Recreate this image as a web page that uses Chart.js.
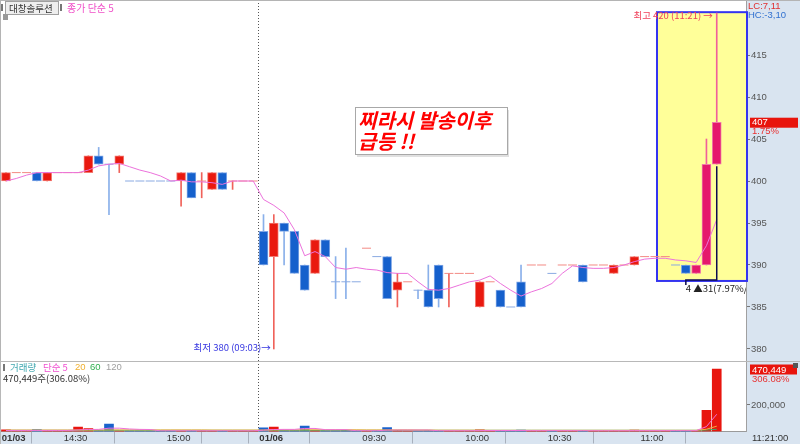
<!DOCTYPE html>
<html>
<head>
<meta charset="utf-8">
<script src="https://cdn.jsdelivr.net/npm/chart.js@4.4.1/dist/chart.umd.min.js"></script>
<style>
    html, body { margin: 0; padding: 0; background: #fff; }
    #wrap { position: relative; width: 800px; height: 444px; overflow: hidden; }
    #priceCanvas { position: absolute; left: 0; top: 0; }
    #volCanvas { position: absolute; left: 0; top: 361px; }
</style>
</head>
<body>
<div id="wrap">
    <canvas id="priceCanvas" width="800" height="361"></canvas>
    <canvas id="volCanvas" width="800" height="83"></canvas>
</div>
<script>
// one slot = one 3-minute bar, 01/03 afternoon -> 01/06 11:21
const openP  = [400,401,401,401,400,401,401,401,401,403, 402,402,400,400,400,400,400,400,401,400,
                399,401,400,400,400,394,391,395,394,390, 389,393,388,388,388,392,391,391,387,388,
                387,387,390,389,389,389,385,388,387,385, 388,390,390,389,390,390,390,390,390,389,
                390,390,391,391,391,390,390,389,390,402];
const highP  = [401,401,401,401,401,401,401,401,403,404, 402,403,400,400,400,400,400,401,401,401,
                401,401,400,400,400,396,396,395,394,390, 393,393,391,392,388,392,391,391,389,388,
                387,390,390,389,389,389,388,388,387,385, 390,390,390,389,390,390,390,390,390,390,
                390,391,391,391,391,390,390,390,405,420];
const lowP   = [400,401,401,400,400,401,401,401,401,402, 396,401,400,400,400,400,400,397,398,398,
                399,399,399,400,400,390,380,390,389,387, 389,391,386,386,388,392,391,386,385,388,
                386,385,385,385,389,389,385,388,385,385, 385,390,390,389,390,390,388,390,390,389,
                390,390,391,391,391,390,389,389,390,402];
const closeP = [401,401,401,400,401,401,401,401,403,402, 402,403,400,400,400,400,400,401,398,400,
                401,399,400,400,400,390,395,394,389,387, 393,391,388,388,388,392,391,386,388,388,
                387,385,386,389,389,389,388,388,385,385, 385,390,390,389,390,390,388,390,390,390,
                390,391,391,391,391,390,389,390,402,407];
// 종가 단순 5
const maClose = [400,400.3,400.7,401,401,401,401,401,401.3,401.8, 402,402.1,401.7,401.3,401,400.6,400,400.1,399.9,399.9,
                 399.8,399.6,400,400,400,397.8,397.1,396.2,394.2,391.1, 391.6,391,389.7,389.5,389.7,389.5,389.4,389.1,389,389,
                 388,387.1,387,387.2,387.6,388,388.2,388.7,387.8,387, 386.3,386.8,387.2,387.8,389,389.9,389.7,389.6,389.6,389.7,
                 390,390.4,390.7,390.8,390.8,390.6,390.5,390.3,392.3,395.4];

const vol = [12000,5000,5000,14000,6000,6000,6000,33000,22000,8000, 56000,5000,5000,5000,5000,5000,5000,5000,6000,6000,
             6000,5000,5000,5000,5000,28000,33000,8000,8000,40000, 8000,6000,6000,8000,5000,5000,6000,30000,8000,5000,
             5000,8000,6000,5000,5000,5000,12000,5000,6000,5000, 10000,5000,5000,5000,5000,5000,8000,5000,5000,6000,
             5000,10000,5000,5000,5000,5000,6000,8000,160000,470449];
const volMa5 = [8000,8000,8000,8000,8000,8000,8000,12000,15000,16000, 25000,25000,19000,16000,15000,5000,5500,5500,5500,5500,
                5500,5500,5500,5500,5500,10000,15000,16000,16000,23000, 23000,14000,14000,14000,6000,6000,6000,10000,11000,11000,
                11000,11000,6000,6000,6000,6000,7000,7500,7500,7500, 7500,6500,6500,6500,6500,6500,6000,6000,6000,6000,
                6000,6500,6500,6500,6500,6500,6000,6500,37000,130000];
const volMa20 = [11000,11000,11000,11000,11000,11000,11000,11000,11000,11000, 12000,12000,12000,12000,12000,12000,12000,12000,12000,12000,
                 11000,11000,11000,11000,11000,11000,12000,12000,12000,13000, 13000,13000,13000,13000,13000,12000,12000,12000,12000,12000,
                 11000,11000,10000,10000,10000,10000,10000,9000,9000,9000, 9000,9000,9000,9000,9000,9000,9000,9000,9000,9000,
                 9000,9000,9000,9000,9000,9000,9000,9000,17000,40000];
const volMa60 = [9000,9000,9000,9000,9000,9000,9000,9000,9000,9000, 9000,9000,9000,9000,9000,9000,9000,9000,9000,9000,
                 9000,9000,9000,9000,9000,9000,9000,9000,9000,9000, 9000,9000,9000,9000,9000,9000,9000,9000,9000,9000,
                 9000,9000,9000,9000,9000,9000,9000,9000,9000,9000, 9000,9000,9000,9000,9000,9000,9000,9000,9000,9000,
                 9000,9000,9000,9000,9000,9000,9000,9000,11000,17000];

const priceTicks = [380, 385, 390, 395, 400, 405, 410, 415];
const volTicks = [200000];
const timeTicks = [-0.5, 5.5, 15.5, 22.5, 24.5, 34.5, 44.5, 52.5, 61.5];
const timeLabels = ['01/03', '14:30', '15:00', '', '01/06', '09:30', '10:00', '10:30', '11:00'];

// visible slot range, price / volume ranges of the two panes
const X_MIN = -0.58, X_MAX = 71.84;
const P_MIN = 378.57, P_MAX = 421.55;
const V_MAX = 532000;
const DAY_BREAK = 24.5;
const HOT_START = 67;

const NUM = '"Liberation Sans", Arial, sans-serif';
const KR = '"Noto Sans CJK KR", "Noto Sans", sans-serif';
const AXIS_BG = '#d9e4f0';

const RED = '#e9190f', RED_EDGE = '#f27a72', RED_WICK = '#f0625a', RED_DASH = '#f38a84';
const BLUE = '#1560cc', BLUE_EDGE = '#7fa6e6', BLUE_WICK = '#8ab0ea', BLUE_DASH = '#8aaae2';
const HOT = '#e5186c', HOT_EDGE = '#f07aa8', HOT_WICK = '#f0609a';

const idx = openP.map((_, i) => i);

// up / down tone: body direction, dojis follow the previous close
const tone = [];
idx.forEach(i => {
    if (closeP[i] > openP[i]) tone.push('up');
    else if (closeP[i] < openP[i]) tone.push('down');
    else if (i > 0 && closeP[i] > closeP[i - 1]) tone.push('up');
    else if (i > 0 && closeP[i] < closeP[i - 1]) tone.push('down');
    else tone.push(i > 0 ? tone[i - 1] : 'up');
});

const bodyIdx = idx.filter(i => openP[i] !== closeP[i]);
const dojiIdx = idx.filter(i => openP[i] === closeP[i]);
const wickIdx = idx.filter(i => highP[i] > lowP[i]);

function fillOf(i) {
    if (tone[i] === 'up') return i >= HOT_START ? HOT : RED;
    return BLUE;
}
function edgeOf(i) {
    if (tone[i] === 'up') return i >= HOT_START ? HOT_EDGE : RED_EDGE;
    return BLUE_EDGE;
}
function wickOf(i) {
    if (tone[i] === 'up') return i >= HOT_START ? HOT_WICK : RED_WICK;
    return BLUE_WICK;
}

function txt(ctx, s, x, y, color, font, align) {
    ctx.fillStyle = color;
    ctx.font = font;
    ctx.textAlign = align || 'left';
    ctx.textBaseline = 'middle';
    ctx.fillText(s, x, y);
}

// drop the label padding chart.js keeps around the axes
function noPad(s) {
    s.paddingTop = 0;
    s.paddingBottom = 0;
    s.paddingLeft = 0;
    s.paddingRight = 0;
}

const priceDeco = {
    id: 'priceDeco',
    beforeDraw(chart) {
        const { ctx, chartArea: a, width, height } = chart;
        ctx.save();
        ctx.fillStyle = '#fff';
        ctx.fillRect(0, 0, width, height);
        ctx.fillStyle = AXIS_BG;
        ctx.fillRect(a.right, 0, width - a.right, height);
        ctx.restore();
    },
    beforeDatasetsDraw(chart) {
        const { ctx, chartArea: a, scales: { x, y } } = chart;
        ctx.save();
        // highlight box
        const bx = x.getPixelForValue(63.2);
        const by1 = y.getPixelForValue(420.1);
        const by2 = y.getPixelForValue(388.1);
        ctx.fillStyle = '#ffff99';
        ctx.fillRect(bx, by1, a.right - bx, by2 - by1);
        ctx.strokeStyle = '#3434f0';
        ctx.lineWidth = 2;
        ctx.strokeRect(bx, by1, a.right - bx + 1, by2 - by1);
        // day separator
        const dx = Math.round(x.getPixelForValue(DAY_BREAK)) + 0.5;
        ctx.setLineDash([1, 2]);
        ctx.strokeStyle = '#555';
        ctx.lineWidth = 1;
        ctx.beginPath();
        ctx.moveTo(dx, a.top);
        ctx.lineTo(dx, a.bottom);
        ctx.stroke();
        ctx.restore();
    },
    afterDatasetsDraw(chart) {
        const { ctx, chartArea: a, scales: { x, y } } = chart;
        ctx.save();
        ctx.beginPath();
        ctx.rect(a.left, a.top, a.right - a.left, a.bottom - a.top);
        ctx.clip();

        // range bracket 66 -> 69
        const x69 = x.getPixelForValue(69), x66 = x.getPixelForValue(66);
        const yb = y.getPixelForValue(388.2);
        ctx.strokeStyle = '#0c0c50';
        ctx.lineWidth = 1.5;
        ctx.beginPath();
        ctx.moveTo(x69, y.getPixelForValue(402) + 2);
        ctx.lineTo(x69, yb);
        ctx.lineTo(x66, yb);
        ctx.lineTo(x66, yb + 5);
        ctx.stroke();
        txt(ctx, '4 ▲31(7.97%/-', x66, yb + 8, '#222', '9.5px ' + KR);

        // high / low notes
        txt(ctx, '최고 420 (11:21) →', x69 - 4, y.getPixelForValue(420) + 2, '#f0405a', '9.5px ' + KR, 'right');
        txt(ctx, '최저 380 (09:03)→', x.getPixelForValue(26) - 3, y.getPixelForValue(380) - 2, '#3535e0', '9.5px ' + KR, 'right');

        // memo box
        ctx.fillStyle = 'rgba(0,0,0,0.12)';
        ctx.fillRect(357, 110, 152, 47);
        ctx.fillStyle = '#fff';
        ctx.fillRect(355.5, 107.5, 152, 47);
        ctx.strokeStyle = '#a8a8a8';
        ctx.lineWidth = 1;
        ctx.strokeRect(355.5, 107.5, 152, 47);
        ctx.fillStyle = '#ff0000';
        ctx.font = 'italic bold 20px ' + KR;
        ctx.textAlign = 'left';
        ctx.textBaseline = 'alphabetic';
        ctx.fillText('찌라시 발송이후', 358, 128);
        ctx.fillText('급등 !!', 358, 149);
        ctx.restore();
    },
    afterDraw(chart) {
        const { ctx, chartArea: a, width, scales: { y } } = chart;
        ctx.save();
        // legend
        ctx.fillStyle = '#777';
        ctx.fillRect(1, 4, 2, 7);
        ctx.fillStyle = '#eeeeee';
        ctx.fillRect(5.5, 1.5, 53, 13);
        ctx.strokeStyle = '#a0a0a0';
        ctx.lineWidth = 1;
        ctx.strokeRect(5.5, 1.5, 53, 13);
        txt(ctx, '대창솔루션', 9, 8.5, '#333', '9.5px ' + KR);
        ctx.fillStyle = '#777';
        ctx.fillRect(60, 4, 2, 7);
        txt(ctx, '종가 단순 5', 67, 8.5, '#f050c8', '10px ' + KR);
        ctx.fillStyle = '#999';
        ctx.fillRect(3, 14, 5, 6);

        txt(ctx, 'LC:7,11', a.right + 2, 6, '#e03030', '9.5px ' + NUM);
        txt(ctx, 'HC:-3,10', a.right + 2, 15, '#3070d0', '9.5px ' + NUM);
        const yc = y.getPixelForValue(closeP[closeP.length - 1]);
        ctx.fillStyle = '#e8140c';
        ctx.fillRect(a.right + 4, yc - 4.5, 48, 10);
        txt(ctx, String(closeP[closeP.length - 1]), a.right + 6, yc + 0.5, '#fff', '9.5px ' + NUM);
        txt(ctx, '1.75%', a.right + 6, yc + 9.5, '#e83030', '9.5px ' + NUM);
        // frame
        ctx.strokeStyle = '#b4b4b4';
        ctx.lineWidth = 1;
        ctx.beginPath();
        ctx.moveTo(0, 0.5);
        ctx.lineTo(width, 0.5);
        ctx.moveTo(0.5, 0);
        ctx.lineTo(0.5, chart.height);
        ctx.stroke();
        ctx.restore();
    }
};

const volDeco = {
    id: 'volDeco',
    beforeDraw(chart) {
        const { ctx, chartArea: a, width, height } = chart;
        ctx.save();
        ctx.fillStyle = '#fff';
        ctx.fillRect(0, 0, width, height);
        ctx.fillStyle = AXIS_BG;
        ctx.fillRect(a.right, 0, width - a.right, height);
        ctx.fillRect(0, a.bottom, width, height - a.bottom);
        ctx.restore();
    },
    beforeDatasetsDraw(chart) {
        const { ctx, chartArea: a, scales: { x } } = chart;
        ctx.save();
        const dx = Math.round(x.getPixelForValue(DAY_BREAK)) + 0.5;
        ctx.setLineDash([1, 2]);
        ctx.strokeStyle = '#555';
        ctx.lineWidth = 1;
        ctx.beginPath();
        ctx.moveTo(dx, a.top);
        ctx.lineTo(dx, a.bottom);
        ctx.stroke();
        ctx.restore();
    },
    afterDraw(chart) {
        const { ctx, chartArea: a, width, height } = chart;
        ctx.save();
        ctx.strokeStyle = '#b8b8b8';
        ctx.lineWidth = 1;
        ctx.beginPath();
        ctx.moveTo(0, 0.5);
        ctx.lineTo(width, 0.5);
        ctx.moveTo(0.5, 0);
        ctx.lineTo(0.5, height);
        ctx.stroke();

        // legend
        ctx.fillStyle = '#777';
        ctx.fillRect(3, 3, 2, 7);
        txt(ctx, '거래량', 10, 6.5, '#40a8b0', '9.5px ' + KR);
        txt(ctx, '단순 5', 43, 6.5, '#f050d0', '9.5px ' + KR);
        txt(ctx, '20', 75, 6.5, '#f0b030', '9.5px ' + NUM);
        txt(ctx, '60', 90, 6.5, '#30b050', '9.5px ' + NUM);
        txt(ctx, '120', 106, 6.5, '#a0a0a0', '9.5px ' + NUM);
        txt(ctx, '470,449주(306.08%)', 3, 17.5, '#333', '9.5px ' + KR);

        // right axis notes
        ctx.fillStyle = '#e8140c';
        ctx.fillRect(a.right + 4, 3.5, 47, 10);
        txt(ctx, '470,449', a.right + 6, 9, '#fff', '9.5px ' + NUM);
        txt(ctx, '306.08%', a.right + 6, 18, '#e83030', '9.5px ' + NUM);
        ctx.fillStyle = '#555';
        ctx.fillRect(width - 7, 2, 5, 5);
        txt(ctx, '11:21:00', a.right + 6, a.bottom + 6.5, '#333', '9.5px ' + NUM);
        ctx.restore();
    }
};

new Chart(document.getElementById('priceCanvas'), {
    type: 'bar',
    data: {
        datasets: [
            {
                type: 'line',
                label: '종가 단순 5',
                data: idx.map(i => ({ x: i, y: maClose[i] })),
                borderColor: '#ec72dc',
                borderWidth: 1,
                pointRadius: 0,
                tension: 0,
                order: 0
            },
            {
                type: 'line',
                label: 'doji',
                data: dojiIdx.map(i => ({ x: i, y: closeP[i] })),
                showLine: false,
                pointStyle: 'line',
                pointRadius: 4.5,
                pointBorderWidth: 1,
                pointBorderColor: dojiIdx.map(i => tone[i] === 'up' ? RED_DASH : BLUE_DASH),
                order: 1
            },
            {
                type: 'bar',
                label: 'body',
                data: bodyIdx.map(i => ({ x: i, y: [openP[i], closeP[i]] })),
                backgroundColor: bodyIdx.map(fillOf),
                borderColor: bodyIdx.map(edgeOf),
                borderWidth: 1,
                borderSkipped: false,
                barThickness: 9,
                grouped: false,
                order: 2
            },
            {
                type: 'bar',
                label: 'wick',
                data: wickIdx.map(i => ({ x: i, y: [lowP[i], highP[i]] })),
                backgroundColor: wickIdx.map(wickOf),
                borderWidth: 0,
                barThickness: 1,
                grouped: false,
                order: 3
            }
        ]
    },
    options: {
        responsive: false,
        maintainAspectRatio: false,
        animation: false,
        events: [],
        layout: { padding: 0, autoPadding: false },
        plugins: { legend: { display: false }, tooltip: { enabled: false } },
        scales: {
            x: {
                type: 'linear',
                min: X_MIN,
                max: X_MAX,
                offset: false,
                display: false
            },
            y: {
                position: 'right',
                min: P_MIN,
                max: P_MAX,
                afterFit: s => { s.width = 54; noPad(s); },
                afterBuildTicks: s => { s.ticks = priceTicks.map(v => ({ value: v })); },
                ticks: { color: '#555', padding: 1, font: { family: NUM, size: 9.5 } },
                grid: { drawOnChartArea: false, tickLength: 4, color: '#777' },
                border: { color: '#a0a0a0' }
            }
        }
    },
    plugins: [priceDeco]
});

new Chart(document.getElementById('volCanvas'), {
    type: 'bar',
    data: {
        datasets: [
            {
                type: 'line',
                label: '단순 5',
                data: idx.map(i => ({ x: i, y: volMa5[i] })),
                borderColor: '#f070d8',
                borderWidth: 1,
                pointRadius: 0,
                order: 0
            },
            {
                type: 'line',
                label: '20',
                data: idx.map(i => ({ x: i, y: volMa20[i] })),
                borderColor: '#f0b040',
                borderWidth: 1,
                pointRadius: 0,
                order: 1
            },
            {
                type: 'line',
                label: '60',
                data: idx.map(i => ({ x: i, y: volMa60[i] })),
                borderColor: '#40a868',
                borderWidth: 1,
                pointRadius: 0,
                order: 2
            },
            {
                type: 'bar',
                label: '거래량',
                data: idx.map(i => ({ x: i, y: vol[i] })),
                backgroundColor: idx.map(i => tone[i] === 'up' ? '#e8150e' : '#1a62cc'),
                borderWidth: 0,
                barThickness: 9,
                grouped: false,
                order: 3
            }
        ]
    },
    options: {
        responsive: false,
        maintainAspectRatio: false,
        animation: false,
        events: [],
        layout: { padding: 0, autoPadding: false },
        plugins: { legend: { display: false }, tooltip: { enabled: false } },
        scales: {
            x: {
                type: 'linear',
                min: X_MIN,
                max: X_MAX,
                offset: false,
                position: 'bottom',
                afterFit: s => { s.height = 12.5; noPad(s); },
                afterBuildTicks: s => { s.ticks = timeTicks.map(v => ({ value: v })); },
                ticks: {
                    autoSkip: false,
                    maxRotation: 0,
                    align: 'start',
                    labelOffset: 1,
                    padding: -11,
                    color: '#333',
                    callback: (v, i) => timeLabels[i],
                    font: c => ({ family: NUM, size: 9.5, weight: (c.index === 0 || c.index === 4) ? 'bold' : 'normal' })
                },
                grid: { drawOnChartArea: false, tickLength: 12, color: '#a8b0bc' },
                border: { color: '#9a9a9a' }
            },
            y: {
                position: 'right',
                min: 0,
                max: V_MAX,
                afterFit: s => { s.width = 54; noPad(s); },
                afterBuildTicks: s => { s.ticks = volTicks.map(v => ({ value: v })); },
                ticks: {
                    color: '#555',
                    padding: 1,
                    font: { family: NUM, size: 9.5 },
                    callback: v => v.toLocaleString('en-US')
                },
                grid: { drawOnChartArea: false, tickLength: 4, color: '#777' },
                border: { color: '#a0a0a0' }
            }
        }
    },
    plugins: [volDeco]
});
</script>
</body>
</html>
